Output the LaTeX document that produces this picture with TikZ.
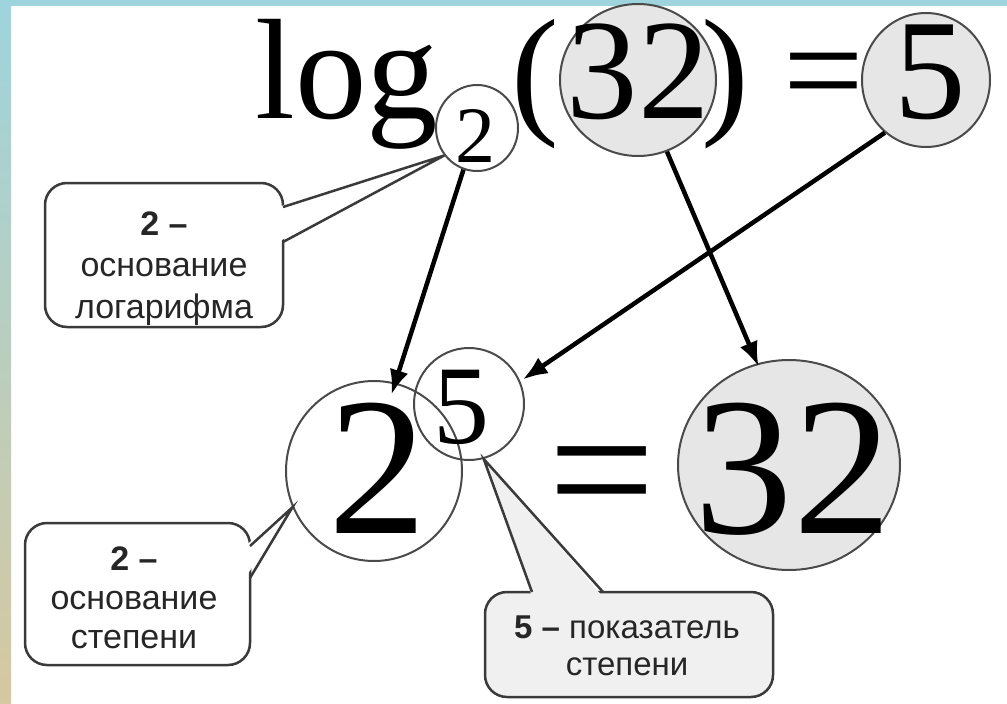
\documentclass[tikz,border=0pt]{standalone}
\usepackage{fontspec}
\setmainfont{Liberation Serif}
\newfontfamily\calfont{Liberation Sans}
\usetikzlibrary{shapes.geometric,arrows.meta}
\definecolor{tealband}{HTML}{9ED4DD}
\definecolor{beigeM}{HTML}{E8E4CC}
\definecolor{beigeB}{HTML}{D6C8A0}
\definecolor{cfill}{HTML}{E6E6E6}
\definecolor{boxfill}{HTML}{F0F0F0}
\definecolor{cline}{HTML}{4A4A4A}
\definecolor{bline}{HTML}{3A3A3A}
\definecolor{ctext}{HTML}{262626}
\begin{document}
\begin{tikzpicture}[x=1pt,y=-1pt,
  ring/.style n args={2}{ellipse, draw=cline, line width=2pt, inner sep=0pt,
     minimum width=#1, minimum height=#2},
  digit/.style={anchor=base, inner sep=0pt, text=black},
  arr/.style={line width=4.5pt, draw=black, -{Latex[length=25pt,width=19pt]}},
  callbox/.style={draw=bline, line width=2.5pt, rounded corners=22pt},
  wedge/.style={draw=bline, line width=2.5pt, line join=miter},
  caltext/.style={anchor=base, inner sep=0pt, align=center, text=ctext}]
\useasboundingbox (0,0) rectangle (1007,704);
% background
\fill[white] (0,0) rectangle (1007,704);
\shade[top color=tealband, middle color=beigeM, bottom color=beigeB] (0,0) rectangle (11,704);
\fill[tealband] (0,0) rectangle (1007,6);

% circles
\node[ring={82pt}{86pt}] (s2) at (477,128) {};
\node[ring={156pt}{152pt}, fill=cfill] (t32) at (638,80) {};
\node[ring={128pt}{134pt}, fill=cfill] (t5) at (926,80) {};
\node[ring={176pt}{180pt}] (b2) at (374,471) {};
\node[ring={110pt}{112pt}] (s5) at (469,404) {};
\node[ring={222pt}{210pt}, fill=cfill] (b32) at (789,465) {};

% callout 1
\draw[callbox, fill=white] (45,183) rectangle (283,327);
\coordinate (c1a) at (283,207);
\coordinate (c1b) at (283,242);
\fill[white] (278,207) -- (s2.220) -- (278,242) -- cycle;
\draw[wedge] (c1a) -- (s2.220) -- (c1b);
\node[caltext, font=\calfont\fontsize{34}{41.5}\selectfont] (t1) at (164,318)
  {\textbf{2 –}\\основание\\логарифма};

% callout 2
\draw[callbox, fill=white] (25,523) rectangle (250,665);
\coordinate (c2a) at (250,546);
\coordinate (c2b) at (250,578);
\fill[white] (245,546) -- (b2.-156) -- (245,578) -- cycle;
\draw[wedge] (c2a) -- (b2.-156) -- (c2b);
\node[caltext, font=\calfont\fontsize{34}{39}\selectfont] (t2) at (134,648)
  {\textbf{2 –}\\основание\\степени};

% callout 3
\draw[callbox, fill=boxfill] (485,592) rectangle (773,697);
\coordinate (c3a) at (532,592);
\coordinate (c3b) at (603,592);
\fill[boxfill] (532,597) -- (s5.-75) -- (603,597) -- cycle;
\draw[wedge] (c3a) -- (s5.-75) -- (c3b);
\node[caltext, font=\calfont\fontsize{33}{37}\selectfont] (t3) at (627,675)
  {\textbf{5 –} показатель\\степени};

% top formula
\node[digit, font=\fontsize{143}{143}\selectfont] (log) at (347,118) {log};
\node[digit, font=\fontsize{80}{80}\selectfont] (sub2) at (475,162) {2};
\node[digit, font=\fontsize{143}{143}\selectfont] (lp) at (535,118) {(};
\node[digit, font=\fontsize{143}{143}\selectfont] (n32) at (638,118) {32};
\node[digit, font=\fontsize{143}{143}\selectfont] (rp) at (725,118) {)};
\node[digit, font=\fontsize{143}{143}\selectfont] (eq1) at (824,118) {=};
\node[digit, font=\fontsize{143}{143}\selectfont] (n5) at (930,118) {5};

% bottom formula
\node[digit, font=\fontsize{197}{197}\selectfont] (base2) at (378,533) {2};
\node[digit, font=\fontsize{112}{112}\selectfont] (sup5) at (461,443) {5};
\node[digit, font=\fontsize{190}{190}\selectfont] (eq2) at (602,533) {=};
\node[digit, font=\fontsize{197}{197}\selectfont] (m32) at (793,533) {32};

% arrows
\draw[arr] (s2.-108) -- ([yshift=-13pt]b2.79);
\draw[arr] (t32.-68) -- ([xshift=-1pt,yshift=-4pt]b32.106);
\draw[arr] (t5.-128) -- ([xshift=4pt,yshift=-2pt]s5.28);
\end{tikzpicture}
\end{document}
